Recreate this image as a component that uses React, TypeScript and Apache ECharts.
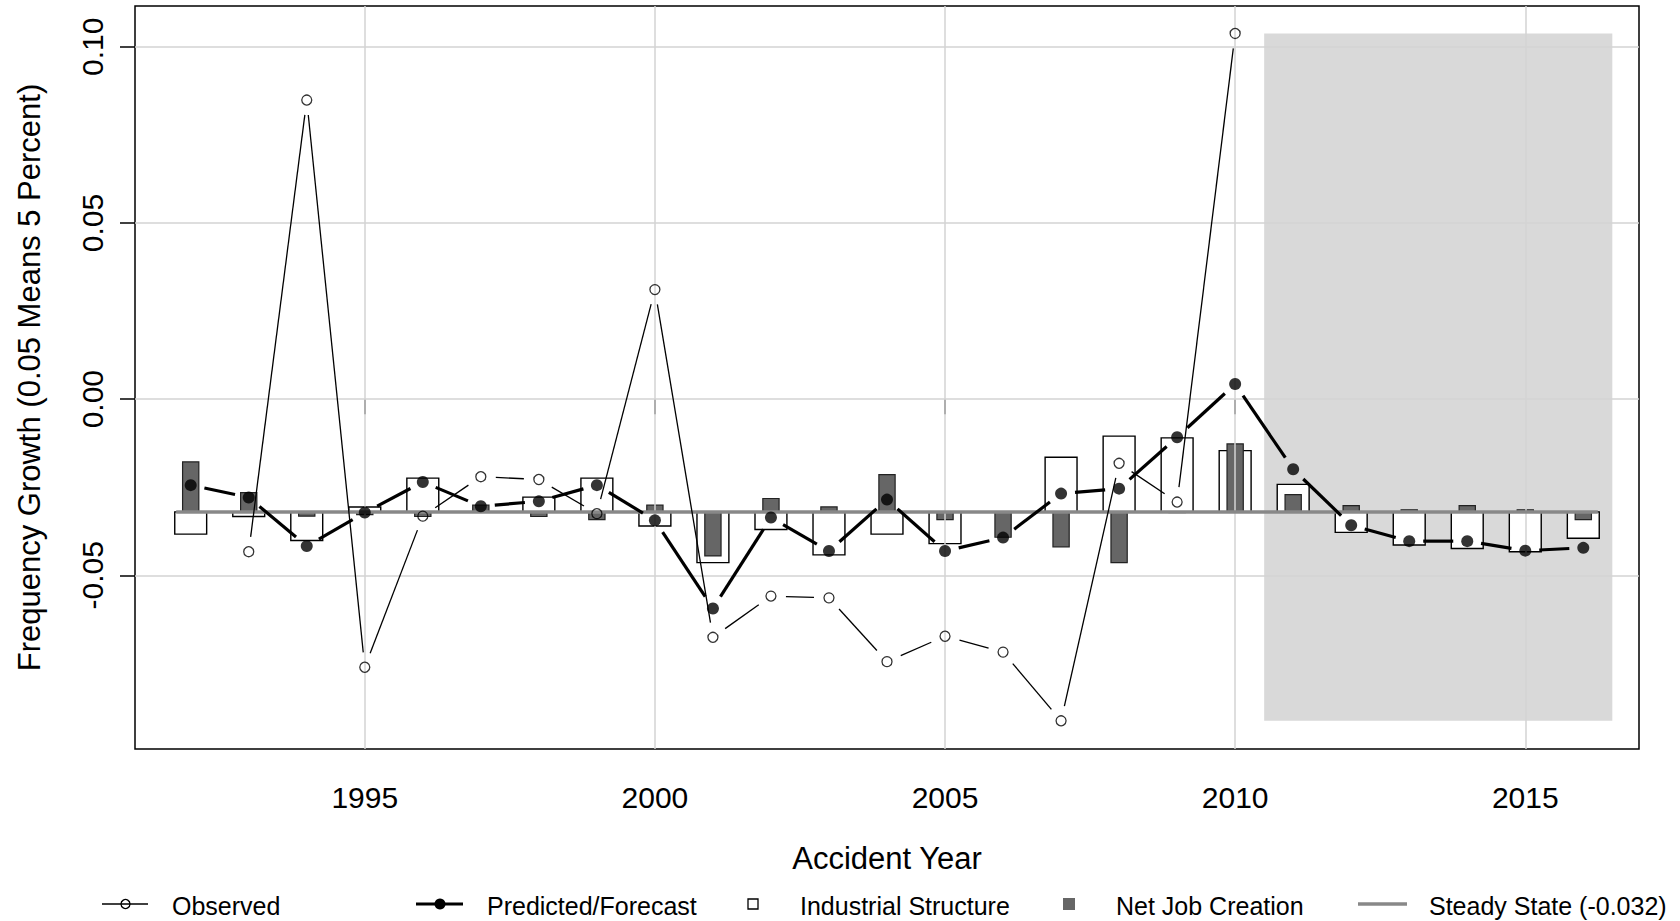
import React, { useEffect, useRef } from "react";
import * as echarts from "echarts";

// ---- Data ----
const years: number[] = [
  1992, 1993, 1994, 1995, 1996, 1997, 1998, 1999, 2000, 2001, 2002, 2003, 2004,
  2005, 2006, 2007, 2008, 2009, 2010, 2011, 2012, 2013, 2014, 2015, 2016,
];
const industrialStructure: number[] = [
  -0.0383, -0.0333, -0.0401, -0.0306, -0.0224, -0.0321, -0.0278, -0.0224, -0.036,
  -0.0464, -0.037, -0.0442, -0.0383, -0.041, -0.0321, -0.0165, -0.0105, -0.011,
  -0.0146, -0.0242, -0.0378, -0.0414, -0.0424, -0.0433, -0.0395,
];
const netJobCreation: number[] = [
  -0.0178, -0.0265, -0.0332, -0.0328, -0.0333, -0.0301, -0.0333, -0.0342, -0.0301,
  -0.0445, -0.0282, -0.0306, -0.0214, -0.0342, -0.0392, -0.0419, -0.0464, -0.0322,
  -0.0127, -0.0271, -0.0302, -0.0314, -0.0302, -0.0314, -0.0342,
];
const predicted: number[] = [
  -0.0244, -0.0279, -0.0417, -0.0322, -0.0235, -0.0304, -0.029, -0.0244, -0.0344,
  -0.0594, -0.0336, -0.0431, -0.0285, -0.0431, -0.0393, -0.0268, -0.0254, -0.0108,
  0.0043, -0.0199, -0.0358, -0.0403, -0.0403, -0.043, -0.0422,
];
const observedYears: number[] = [
  1993, 1994, 1995, 1996, 1997, 1998, 1999, 2000, 2001, 2002, 2003, 2004, 2005,
  2006, 2007, 2008, 2009, 2010,
];
const observed: number[] = [
  -0.0433, 0.0849, -0.0761, -0.0332, -0.022, -0.0228, -0.0325, 0.0311, -0.0676,
  -0.0559, -0.0564, -0.0745, -0.0673, -0.0718, -0.0913, -0.0182, -0.0292, 0.1038,
];
const steadyState = -0.032;
const steadyRange: number[] = [1991.75, 2016.25];
const forecastRange: number[] = [2010.5, 2016.5];
const xTickValues: number[] = [1995, 2000, 2005, 2010, 2015];
const yTickValues: number[] = [-0.05, 0, 0.05, 0.1];

const FONT = "'Liberation Sans', Arial, Helvetica, sans-serif";

export default function App() {
  const ref = useRef<HTMLDivElement>(null);

  useEffect(() => {
    if (!ref.current) return;
    const chart = echarts.init(ref.current, null, { renderer: "svg" });

    const obsMin = Math.min(...observed);
    const obsMax = Math.max(...observed);

    const segs = (xs: number[], ys: number[]) =>
      ys.slice(0, -1).map((v, i) => [xs[i], v, xs[i + 1], ys[i + 1]]);

    const gapSegment = (gap: number, lineWidth: number) => (params: any, api: any) => {
      const a = api.coord([api.value(0), api.value(1)]);
      const b = api.coord([api.value(2), api.value(3)]);
      const dx = b[0] - a[0];
      const dy = b[1] - a[1];
      const L = Math.hypot(dx, dy);
      if (L <= 2 * gap) return { type: "group", children: [] };
      const ux = dx / L;
      const uy = dy / L;
      return {
        type: "line",
        shape: {
          x1: a[0] + ux * gap,
          y1: a[1] + uy * gap,
          x2: b[0] - ux * gap,
          y2: b[1] - uy * gap,
        },
        style: { stroke: "#000", lineWidth, lineCap: "butt" },
      };
    };

    const box = (w: number, fill: string, stroke: string, lw: number) => (params: any, api: any) => {
      const x = api.value(0);
      const v = api.value(1);
      const p1 = api.coord([x - w / 2, steadyState]);
      const p2 = api.coord([x + w / 2, v]);
      const top = Math.min(p1[1], p2[1]);
      const h = Math.abs(p1[1] - p2[1]);
      return {
        type: "rect",
        shape: { x: p1[0], y: top, width: p2[0] - p1[0], height: h },
        style: { fill, stroke, lineWidth: lw },
      };
    };

    const legendY = 904;
    const legendText = (x: number, text: string) => ({
      type: "text",
      x,
      y: legendY + 2,
      style: {
        text,
        fontSize: 25,
        fontFamily: FONT,
        fill: "#000",
        textAlign: "left",
        textVerticalAlign: "middle",
      },
    });

    const option: any = {
      animation: false,
      backgroundColor: "#fff",
      textStyle: { fontFamily: FONT },
      grid: {
        left: 135,
        top: 6,
        width: 1504,
        height: 743,
        show: true,
        borderColor: "#000",
        borderWidth: 1.5,
        backgroundColor: "transparent",
        containLabel: false,
      },
      xAxis: {
        type: "value",
        min: 1991.04,
        max: 2016.96,
        splitLine: { show: false },
        axisLine: { show: false },
        axisTick: {
          show: true,
          length: 15,
          lineStyle: { color: "#000", width: 1.5 },
          customValues: xTickValues,
        },
        axisLabel: {
          customValues: xTickValues,
          fontSize: 30,
          fontFamily: FONT,
          color: "#000",
          margin: 33,
          formatter: (v: number) => String(Math.round(v)),
        },
        name: "Accident Year",
        nameLocation: "middle",
        nameGap: 94,
        nameTextStyle: { fontSize: 31, fontFamily: FONT, color: "#000" },
      },
      yAxis: {
        type: "value",
        min: -0.0993,
        max: 0.1116,
        splitLine: { show: false },
        axisLine: { show: false },
        axisTick: {
          show: true,
          length: 15,
          lineStyle: { color: "#000", width: 1.5 },
          customValues: yTickValues,
        },
        axisLabel: {
          customValues: yTickValues,
          fontSize: 30,
          fontFamily: FONT,
          color: "#000",
          rotate: 90,
          margin: 28,
          formatter: (v: number) => v.toFixed(2),
        },
        name: "Frequency Growth (0.05 Means 5 Percent)",
        nameLocation: "middle",
        nameGap: 90,
        nameTextStyle: { fontSize: 31, fontFamily: FONT, color: "#000" },
      },
      series: [
        {
          name: "forecastShade",
          type: "line",
          data: [],
          z: 1,
          silent: true,
          markArea: {
            silent: true,
            itemStyle: { color: "#d9d9d9" },
            data: [
              [
                { coord: [forecastRange[0], obsMin] },
                { coord: [forecastRange[1], obsMax] },
              ],
            ],
          },
        },
        {
          name: "grid",
          type: "line",
          data: [],
          z: 2,
          silent: true,
          markLine: {
            silent: true,
            symbol: ["none", "none"],
            label: { show: false },
            lineStyle: { color: "#d3d3d3", width: 1.5, type: "solid" },
            data: [
              ...xTickValues.map((v) => ({ xAxis: v })),
              ...yTickValues.map((v) => ({ yAxis: v })),
            ],
          },
        },
        {
          name: "Industrial Structure",
          type: "custom",
          z: 3,
          renderItem: box(0.55, "#fff", "#000", 1.4),
          encode: { x: 0, y: 1 },
          data: years.map((y, i) => [y, industrialStructure[i]]),
        },
        {
          name: "Net Job Creation",
          type: "custom",
          z: 4,
          renderItem: box(0.28, "#666666", "#222", 1.2),
          encode: { x: 0, y: 1 },
          data: years.map((y, i) => [y, netJobCreation[i]]),
        },
        {
          name: "Steady State",
          type: "line",
          z: 5,
          showSymbol: false,
          lineStyle: { color: "#888888", width: 3.5 },
          data: steadyRange.map((x) => [x, steadyState]),
        },
        {
          name: "ObservedLine",
          type: "custom",
          z: 6,
          renderItem: gapSegment(15, 1.3),
          encode: { x: [0, 2], y: [1, 3] },
          data: segs(observedYears, observed),
        },
        {
          name: "Observed",
          type: "scatter",
          z: 7,
          symbol: "circle",
          symbolSize: 10,
          itemStyle: { color: "rgba(0,0,0,0)", borderColor: "#000", borderWidth: 1.3 },
          data: observedYears.map((y, i) => [y, observed[i]]),
        },
        {
          name: "PredictedLine",
          type: "custom",
          z: 8,
          renderItem: gapSegment(14, 3.2),
          encode: { x: [0, 2], y: [1, 3] },
          data: segs(years, predicted),
        },
        {
          name: "Predicted/Forecast",
          type: "scatter",
          z: 9,
          symbol: "circle",
          symbolSize: 12,
          itemStyle: { color: "#000" },
          data: years.map((y, i) => [y, predicted[i]]),
        },
      ],
      graphic: [
        { type: "line", shape: { x1: 102, y1: legendY, x2: 148, y2: legendY }, style: { stroke: "#000", lineWidth: 1.3 } },
        { type: "circle", shape: { cx: 125.5, cy: legendY, r: 4.5 }, style: { fill: "rgba(0,0,0,0)", stroke: "#000", lineWidth: 1.3 } },
        legendText(172, "Observed"),
        { type: "line", shape: { x1: 416, y1: legendY, x2: 463, y2: legendY }, style: { stroke: "#000", lineWidth: 3.2 } },
        { type: "circle", shape: { cx: 440, cy: legendY, r: 5.5 }, style: { fill: "#000" } },
        legendText(487, "Predicted/Forecast"),
        { type: "rect", shape: { x: 748, y: legendY - 5, width: 10, height: 10 }, style: { fill: "#fff", stroke: "#000", lineWidth: 1.3 } },
        legendText(800, "Industrial Structure"),
        { type: "rect", shape: { x: 1063, y: legendY - 6, width: 12, height: 12 }, style: { fill: "#666666" } },
        legendText(1116, "Net Job Creation"),
        { type: "line", shape: { x1: 1358, y1: legendY, x2: 1407, y2: legendY }, style: { stroke: "#888888", lineWidth: 3.5 } },
        legendText(1429, `Steady State (${steadyState.toFixed(3)})`),
      ],
    };

    chart.setOption(option);
    return () => chart.dispose();
  }, []);

  return (
    <div
      ref={ref}
      style={{ position: "fixed", left: 0, top: 0, width: "1680px", height: "921px", background: "#fff" }}
    />
  );
}
